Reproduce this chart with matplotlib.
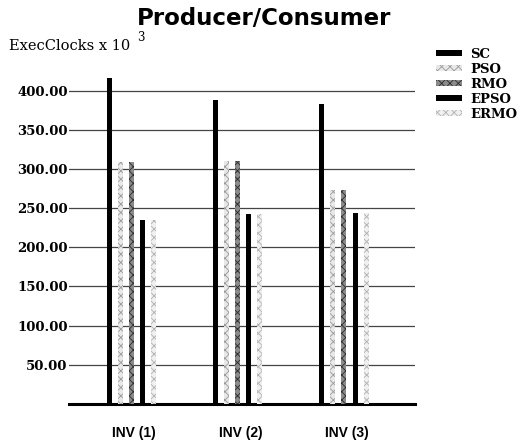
import matplotlib.pyplot as plt
import numpy as np
from matplotlib.patches import Patch

groups = ["INV (1)", "INV (2)", "INV (3)"]
series = ["SC", "PSO", "RMO", "EPSO", "ERMO"]
sc = [416, 388, 383]
pso = [309, 310, 273]
rmo = [309, 310, 273]
epso = [235, 243, 244]
ermo = [235, 243, 244]
yticks = [50, 100, 150, 200, 250, 300, 350, 400]

values = [sc, pso, rmo, epso, ermo]
styles = [
    dict(color="black"),
    dict(color="#e8e8e8", edgecolor="#9a9a9a", hatch="xxxx"),
    dict(color="#8a8a8a", edgecolor="#2a2a2a", hatch="xxxx"),
    dict(color="black"),
    dict(color="#f0f0f0", edgecolor="#b0b0b0", hatch="xxxx"),
]

plt.rcParams["hatch.linewidth"] = 0.6

fig = plt.figure(figsize=(5.22, 4.42), dpi=100)
ax = fig.add_axes([0.132, 0.086, 0.663, 0.762])

x = np.arange(len(groups))
offsets = [-0.21, -0.105, 0.0, 0.105, 0.21]
for vals, off, st in zip(values, offsets, styles):
    ax.bar(x + off, vals, 0.047, linewidth=0, zorder=3, **st)

ax.set_xlim(-0.59, 2.67)
ax.set_ylim(0, 430)
ax.set_yticks(yticks)
ax.set_yticklabels([f"{v:.2f}" for v in yticks],
                   family="DejaVu Serif", fontsize=9.5, fontweight="bold")
ax.tick_params(axis="y", length=0, pad=1)
ax.yaxis.grid(True, color="#444444", linewidth=0.9)
ax.set_axisbelow(True)

ax.set_xticks(x + 0.025)
ax.set_xticklabels(groups, family="Liberation Sans", fontsize=10,
                   fontweight="bold")
ax.tick_params(axis="x", length=0, pad=16)

for side in ["top", "right", "left"]:
    ax.spines[side].set_visible(False)
ax.spines["bottom"].set_linewidth(2.2)

# title and y unit label
fig.text(0.506, 0.959, "Producer/Consumer", ha="center", va="center",
         fontsize=16.5, fontweight="heavy", family="DejaVu Sans")
fig.text(0.018, 0.896, "ExecClocks x 10", ha="left", va="center",
         fontsize=10.5, family="DejaVu Serif")
fig.text(0.263, 0.915, "3", ha="left", va="center",
         fontsize=8.5, family="DejaVu Serif")

handles = [Patch(facecolor=st["color"], edgecolor=st.get("edgecolor"),
                 hatch=st.get("hatch"), linewidth=0) for st in styles]
fig.legend(handles, series, loc="upper left", bbox_to_anchor=(0.822, 0.907),
           frameon=False, handlelength=2.0, handleheight=0.4,
           labelspacing=0.15, handletextpad=0.6, borderpad=0,
           prop=dict(family="DejaVu Serif", size=9.5, weight="bold"))

fig.savefig("out.png", dpi=100)
